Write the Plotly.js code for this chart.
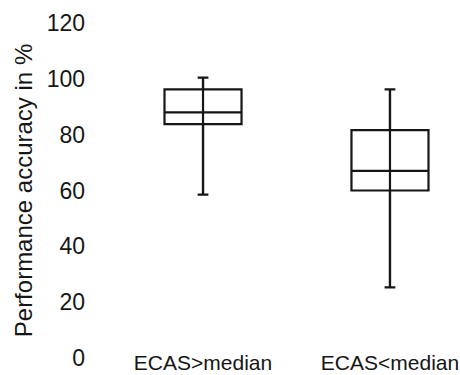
<!DOCTYPE html>
<html>
<head>
<meta charset="utf-8">
<script src="https://cdn.plot.ly/plotly-3.0.1.min.js"></script>
<style>html,body{margin:0;padding:0;background:#fff;}#chart{width:460px;height:375px;}</style>
</head>
<body>
<div id="chart"></div>
<script>
const categories = ["ECAS>median", "ECAS<median"];
const lowerWhisker = [58.5, 25.3];
const q1Values = [83.8, 60];
const medianValues = [88, 67];
const q3Values = [96.2, 81.6];
const upperWhisker = [100.4, 96.2];
const yTicks = [0, 20, 40, 60, 80, 100, 120];

const ink = "#161616";
const traces = [];
categories.forEach((c, i) => {
  traces.push({
    type: "scatter", mode: "lines",
    x: [c, c], y: [lowerWhisker[i], upperWhisker[i]],
    line: {color: ink, width: 2.2}, hoverinfo: "skip", showlegend: false
  });
});
traces.push({
  type: "box",
  x: categories,
  q1: q1Values, median: medianValues, q3: q3Values,
  lowerfence: lowerWhisker, upperfence: upperWhisker,
  boxpoints: false,
  width: 0.412,
  whiskerwidth: 0.14,
  fillcolor: "rgba(0,0,0,0)",
  line: {color: ink, width: 2.2},
  showlegend: false
});

const layout = {
  width: 460, height: 375,
  margin: {l: 100, r: 10, t: 23, b: 17},
  paper_bgcolor: "#fff", plot_bgcolor: "#fff",
  font: {family: "Liberation Sans, Arial, sans-serif", color: ink},
  showlegend: false,
  xaxis: {
    type: "category",
    range: [-0.551, 1.321],
    showgrid: false, zeroline: false, showline: false, ticks: "",
    tickfont: {size: 21, color: ink},
    ticklabelstandoff: -10
  },
  yaxis: {
    range: [0, 120],
    tickvals: yTicks, ticktext: yTicks.map(String),
    showgrid: false, zeroline: false, showline: false, ticks: "",
    tickfont: {size: 23, color: ink},
    ticklabelstandoff: 14,
    title: {text: "Performance accuracy in %", font: {size: 24, color: ink}, standoff: 7}
  }
};
Plotly.newPlot("chart", traces, layout, {displayModeBar: false, staticPlot: true});
</script>
</body>
</html>
